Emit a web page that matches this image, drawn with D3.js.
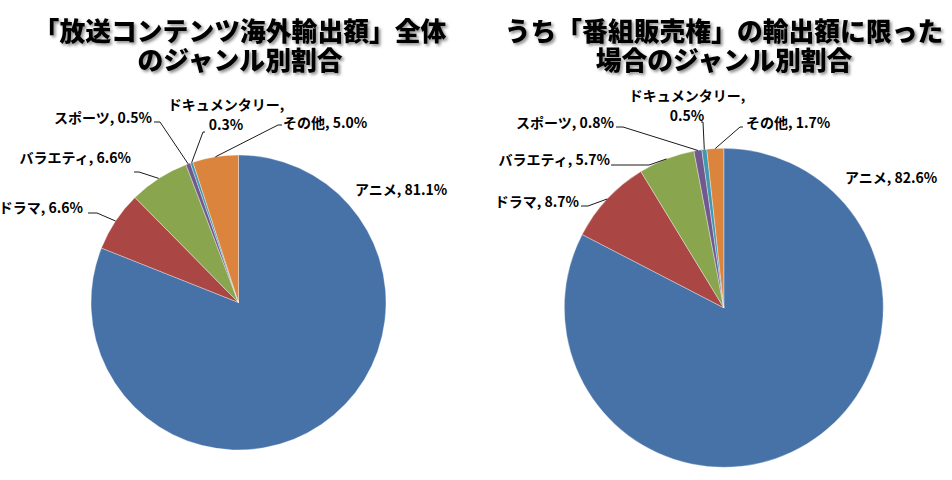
<!DOCTYPE html>
<html><head><meta charset="utf-8">
<script src="https://cdn.jsdelivr.net/npm/d3@7"></script>
<style>
html,body{margin:0;padding:0;background:#fff;}
svg{display:block;}
text{font-family:"Noto Sans CJK JP","Noto Sans CJK SC",sans-serif;}
text.title{font-family:"Liberation Sans","Noto Sans CJK JP",sans-serif;}
</style></head>
<body>
<svg id="chart" width="952" height="480"></svg>
<script>
// ---- data ----
const categories = ["アニメ", "ドラマ", "バラエティ", "スポーツ", "ドキュメンタリー", "その他"];
const leftValues = [81.1, 6.6, 6.6, 0.5, 0.3, 5.0];
const rightValues = [82.6, 8.7, 5.7, 0.8, 0.5, 1.7];
const leftTitle = ["「放送コンテンツ海外輸出額」全体", "のジャンル別割合"];
const rightTitle = ["うち「番組販売権」の輸出額に限った", "場合のジャンル別割合"];
const colors = ["#4672A8", "#AA4643", "#89A54E", "#71588F", "#4198AF", "#DB843D"];

// ---- layout (label placements, not data) ----
const charts = [
  {
    values: leftValues, title: leftTitle, cx: 238.5, cy: 302.5, r: 147.5, tx: 240,
    labels: [
      {x: 355, y: 190, anchor: "start"},
      {x: 83, y: 208, anchor: "end", lead: [[88, 213], [97, 213]]},
      {x: 131, y: 158, anchor: "end", lead: [[134, 172], [139, 172]]},
      {x: 152, y: 118, anchor: "end", lead: [[154, 122], [160, 122]]},
      {x: 226, y: 105, anchor: "middle", two: true, lead: [[205, 132], [203, 132]]},
      {x: 283, y: 123, anchor: "start", lead: [[282, 125], [278, 125]]}
    ]
  },
  {
    values: rightValues, title: rightTitle, cx: 723.8, cy: 307.8, r: 159.5, tx: 724,
    labels: [
      {x: 845, y: 178, anchor: "start"},
      {x: 579, y: 202, anchor: "end", lead: [[581, 206], [588, 206]]},
      {x: 610, y: 160, anchor: "end", lead: [[611, 165], [649, 165]]},
      {x: 614, y: 123, anchor: "end", lead: [[616, 127], [623, 127]]},
      {x: 687, y: 96, anchor: "middle", two: true, lead: [[701, 122], [703, 122]]},
      {x: 746, y: 123, anchor: "start", lead: [[743, 127], [740, 127]]}
    ]
  }
];

const svg = d3.select("#chart");
const defs = svg.append("defs");
const f = defs.append("filter").attr("id", "shadow").attr("x", "-10%").attr("y", "-30%").attr("width", "120%").attr("height", "160%");
f.append("feDropShadow").attr("dx", 2).attr("dy", 2).attr("stdDeviation", 1.4)
  .attr("flood-color", "#000").attr("flood-opacity", 0.45);

const pie = d3.pie().sort(null).value(d => d);

charts.forEach(c => {
  const g = svg.append("g");
  // title (two separate lines)
  c.title.forEach((line, i) => {
    g.append("text").attr("class", "title")
      .attr("x", c.tx).attr("y", 31.5 + i * 29).attr("dy", "0.36em")
      .attr("text-anchor", "middle")
      .attr("font-size", 25.8).attr("font-weight", 900).attr("fill", "#000")
      .attr("filter", "url(#shadow)")
      .text(line);
  });

  const arcs = pie(c.values);
  const arc = d3.arc().innerRadius(0).outerRadius(c.r);
  const edge = d3.arc().innerRadius(c.r).outerRadius(c.r);
  const pg = g.append("g").attr("transform", `translate(${c.cx},${c.cy})`);
  pg.selectAll("path").data(arcs).join("path")
    .attr("d", arc)
    .attr("fill", (d, i) => colors[i])
    .attr("stroke", "#fff").attr("stroke-width", 0.5).attr("stroke-opacity", 0.7);

  // labels
  arcs.forEach((d, i) => {
    const L = c.labels[i];
    const val = c.values[i].toFixed(1) + "%";
    if (L.lead) {
      const p = edge.centroid(d);
      const pts = [L.lead[0], L.lead[1], [c.cx + p[0], c.cy + p[1]]];
      g.append("path")
        .attr("d", d3.line()(pts))
        .attr("fill", "none").attr("stroke", "#000").attr("stroke-width", 0.9);
    }
    const t = g.append("text")
      .attr("text-anchor", L.anchor)
      .attr("font-size", 14).attr("font-weight", 700).attr("fill", "#000");
    if (L.two) {
      t.append("tspan").attr("x", L.x).attr("y", L.y).attr("dy", "0.36em").text(categories[i] + ",");
      t.append("tspan").attr("x", L.x).attr("y", L.y + 20).attr("dy", "0.36em").text(val);
    } else {
      t.attr("x", L.x).attr("y", L.y).attr("dy", "0.36em").text(categories[i] + ", " + val);
    }
  });
});
</script>
</body></html>
